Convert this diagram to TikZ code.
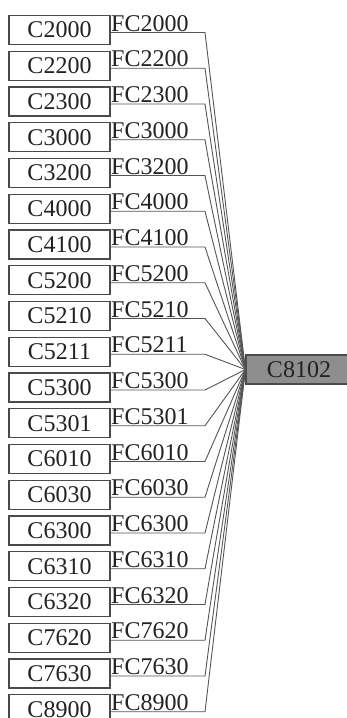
\documentclass[tikz,border=0pt]{standalone}
\usepackage{fontspec}
\setmainfont{Liberation Serif}
\definecolor{boxline}{HTML}{4A4A4A}
\definecolor{conn}{HTML}{555555}
\definecolor{tgtfill}{HTML}{8E8E8E}
\definecolor{txt}{HTML}{222222}
\tikzset{
  srcbox/.style={draw=boxline, line width=1.2pt, minimum width=101pt, minimum height=29pt, inner sep=0pt, text=txt, font=\fontsize{24}{24}\selectfont},
  lbl/.style={inner sep=0pt, anchor=base west, text=txt, font=\fontsize{24}{24}\selectfont},
  tgtbox/.style={draw=boxline, fill=tgtfill, line width=1.2pt, minimum width=106pt, minimum height=29pt, inner sep=0pt, text=txt, font=\fontsize{24}{24}\selectfont},
  conn/.style={draw=conn, line width=0.9pt}
}
\begin{document}
\begin{tikzpicture}[x=1pt,y=-1pt]
\useasboundingbox (0,0) rectangle (346,718);
\fill[white] (0,0) rectangle (346,718);
\node[tgtbox] (t) at (299,369.5) {C8102};
\coordinate (hx) at (205,0);
\foreach \c [count=\i from 0] in {2000,2200,2300,3000,3200,4000,4100,5200,5210,5211,5300,5301,6010,6030,6300,6310,6320,7620,7630,8900}{
  \pgfmathsetmacro{\top}{15.5+35.75*\i}
  \node[srcbox] (s\i) at (59.5,\top+14.5) {C\c};
  \node[lbl] (l\i) at (111,\top+15.5) {FC\c};
  \draw[conn] ([yshift=-2.5pt]s\i.east) -- ([yshift=-2.5pt]s\i.east -| hx) -- (t.west);
}
\end{tikzpicture}
\end{document}
